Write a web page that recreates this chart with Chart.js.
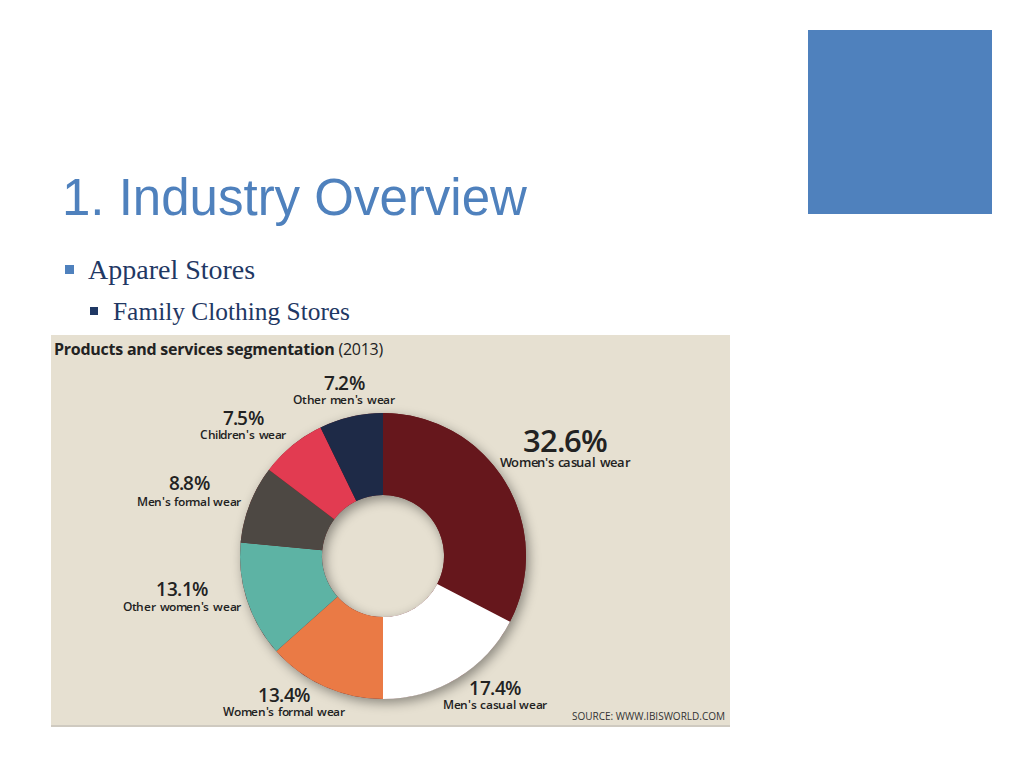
<!DOCTYPE html>
<html>
<head>
<meta charset="utf-8">
<script src="https://cdn.jsdelivr.net/npm/chart.js@4.4.1/dist/chart.umd.min.js"></script>
<style>
  @font-face {
    font-family: "OSL";
    src: local("Open Sans SemiBold"), local("OpenSans-SemiBold"), local("Open Sans Semibold");
    font-weight: 600;
    ascent-override: 76%;
    descent-override: 2%;
    line-gap-override: 0%;
  }
  @font-face {
    font-family: "OSL";
    src: local("Open Sans Regular"), local("OpenSans-Regular"), local("Open Sans");
    font-weight: 400;
    ascent-override: 76%;
    descent-override: 2%;
    line-gap-override: 0%;
  }
  html, body { margin: 0; padding: 0; background: #ffffff; }
  #slide { position: relative; width: 1024px; height: 768px; overflow: hidden; background: #ffffff; }
  .abs { position: absolute; white-space: nowrap; }
  #square { left: 808px; top: 30px; width: 184px; height: 184px; background: #4F81BD; }
  #title { left: 62px; font-family: "Liberation Sans", Arial, sans-serif; font-size: 51px; line-height: 51px; color: #4F81BD; }
  .bul1 { left: 88px; font-family: "Liberation Serif", "Times New Roman", serif; font-size: 28px; line-height: 28px; color: #1F3864; }
  .bul2 { left: 113px; font-family: "Liberation Serif", "Times New Roman", serif; font-size: 25.4px; line-height: 25.4px; color: #1F3864; }
  #panel { left: 51px; top: 335px; width: 679px; height: 390px; background: #E6E0D1; border-bottom: 2px solid #cfcac0; }
  .lbl { font-family: "OSL", "Open Sans", sans-serif; color: #222222; text-align: center; width: 240px; font-weight: 600; }
  #chartbox { left: 213px; top: 386px; width: 340px; height: 340px; }
</style>
</head>
<body>
<div id="slide">
  <div id="square" class="abs"></div>
  <div id="title" class="abs">1. Industry Overview</div>
  <div class="abs" style="left:65px;top:265px;width:9px;height:9px;background:#4F81BD;"></div>
  <div class="abs bul1" id="b1">Apparel Stores</div>
  <div class="abs" style="left:90px;top:307px;width:8px;height:8px;background:#1F3864;"></div>
  <div class="abs bul2" id="b2">Family Clothing Stores</div>
  <div id="panel" class="abs"></div>
  <div id="ctitle" class="abs" style="left:54px;font-family:'Open Sans',sans-serif;font-size:16px;line-height:16px;color:#222;letter-spacing:-0.25px;"><b>Products and services segmentation</b> (2013)</div>
  <div id="source" class="abs" style="font-family:'Open Sans',sans-serif;font-size:10px;line-height:10px;color:#333;">SOURCE: WWW.IBISWORLD.COM</div>
  <div id="labels"></div>
  <div id="chartbox" class="abs"><canvas id="c" width="340" height="340"></canvas></div>
</div>
<script>
// ---- data ----
const categories = ["Women's casual wear", "Men's casual wear", "Women's formal wear", "Other women's wear", "Men's formal wear", "Children's wear", "Other men's wear"];
const values = [32.6, 17.4, 13.4, 13.1, 8.8, 7.5, 7.2];
const colors = ["#66171C", "#FFFFFF", "#EA7A45", "#5DB3A4", "#4D4843", "#E23B51", "#1E2A47"];

// ---- label layout (text placement only) ----
const labelCx = [565, 495, 284, 182, 189, 243, 344];
const pctBase = [452, 696, 703, 597, 491, 426, 391];
const nameBase = [467, 709, 716, 611, 506, 439, 404];
const pctSize = [31, 19, 19, 19, 19, 19, 19];
const nameSize = [12.5, 11.5, 11.5, 11.5, 11.5, 11.5, 11.5];

const OS_BASE = 0.888;   // Open Sans baseline offset at line-height 1
const OSL_BASE = 0.87;   // overridden metrics baseline offset at line-height 1
function placeBaseline(el, baseline, fs, ratio) {
  el.style.top = (baseline - ratio * fs) + 'px';
}
placeBaseline(document.getElementById('title'), 215, 51, 0.8465);
placeBaseline(document.getElementById('b1'), 279, 28, 0.8375);
placeBaseline(document.getElementById('b2'), 320, 25.4, 0.8375);
placeBaseline(document.getElementById('ctitle'), 355, 16, OS_BASE);
const src = document.getElementById('source');
src.style.right = (1024 - 725) + 'px';
placeBaseline(src, 720, 10, OS_BASE);

const labels = document.getElementById('labels');
function addText(text, cx, base, fs, ls, ws) {
  const d = document.createElement('div');
  d.className = 'abs lbl';
  d.textContent = text;
  d.style.fontSize = fs + 'px';
  d.style.lineHeight = fs + 'px';
  d.style.letterSpacing = ls + 'px';
  d.style.wordSpacing = ws + 'px';
  d.style.left = (cx - 120) + 'px';
  placeBaseline(d, base, fs, OSL_BASE);
  labels.appendChild(d);
}
categories.forEach((name, i) => {
  addText(values[i].toFixed(1) + '%', labelCx[i], pctBase[i], pctSize[i], i === 0 ? -1 : -0.6, 0);
  addText(name, labelCx[i], nameBase[i], nameSize[i], -0.35, 1.5);
});

// ring shadow plugin: draws a shadowed ring beneath the arcs
const ringShadow = {
  id: 'ringShadow',
  beforeDatasetsDraw(chart) {
    const meta = chart.getDatasetMeta(0);
    if (!meta.data.length) return;
    const a = meta.data[0];
    const ctx = chart.ctx;
    ctx.save();
    ctx.shadowColor = 'rgba(0,0,0,0.4)';
    ctx.shadowBlur = 12;
    ctx.shadowOffsetX = 3;
    ctx.shadowOffsetY = 4;
    ctx.fillStyle = '#66171C';
    ctx.beginPath();
    ctx.arc(a.x, a.y, a.outerRadius, 0, Math.PI * 2, false);
    ctx.arc(a.x, a.y, a.innerRadius, 0, Math.PI * 2, true);
    ctx.closePath();
    ctx.fill();
    ctx.restore();
  }
};

new Chart(document.getElementById('c'), {
  type: 'doughnut',
  data: {
    labels: categories,
    datasets: [{
      data: values,
      backgroundColor: colors,
      borderWidth: 0,
      hoverOffset: 0
    }]
  },
  options: {
    responsive: false,
    animation: false,
    radius: 143,
    cutout: '42.7%',
    rotation: 0,
    layout: { padding: 0 },
    plugins: { legend: { display: false }, tooltip: { enabled: false } }
  },
  plugins: [ringShadow]
});
</script>
</body>
</html>
